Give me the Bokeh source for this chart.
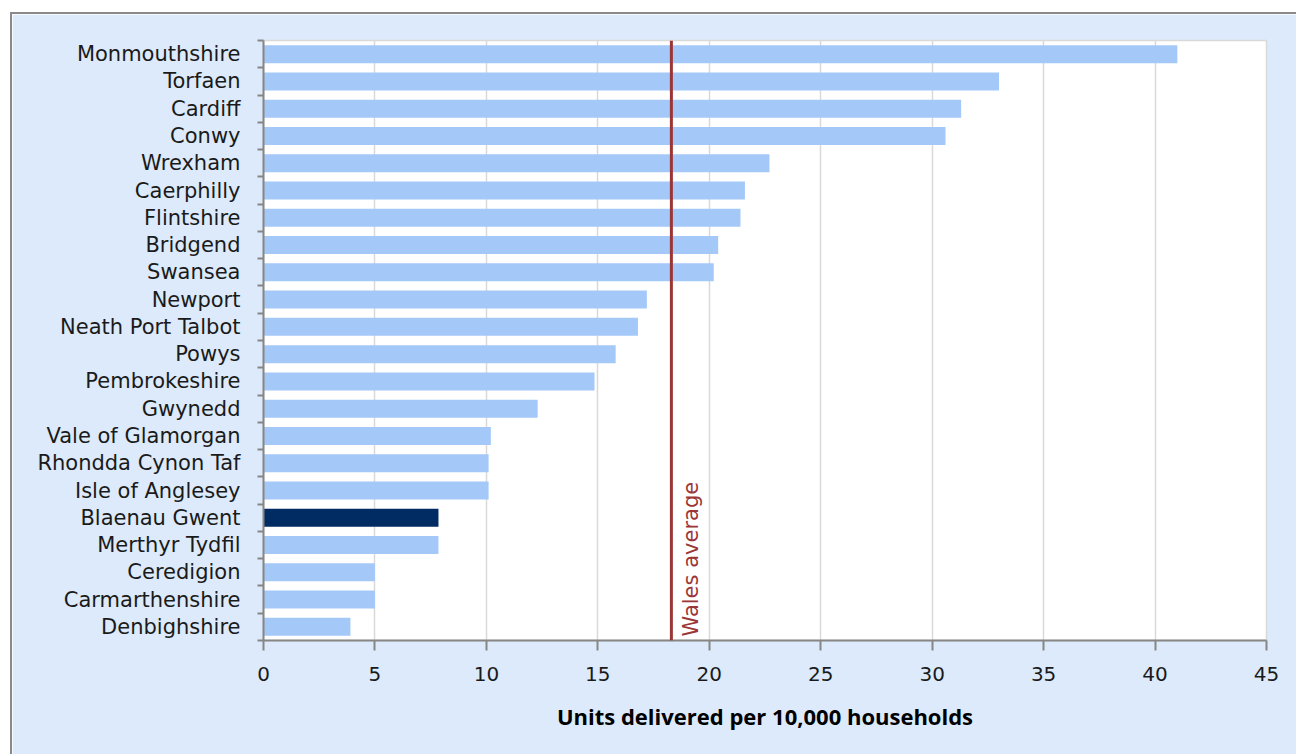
import numpy as np
from bokeh.plotting import figure
from bokeh.models import Range1d, FixedTicker, Span, Label
from bokeh.embed import file_html
from bokeh.resources import INLINE

areas = ["Monmouthshire", "Torfaen", "Cardiff", "Conwy", "Wrexham", "Caerphilly",
         "Flintshire", "Bridgend", "Swansea", "Newport", "Neath Port Talbot", "Powys",
         "Pembrokeshire", "Gwynedd", "Vale of Glamorgan", "Rhondda Cynon Taf",
         "Isle of Anglesey", "Blaenau Gwent", "Merthyr Tydfil", "Ceredigion",
         "Carmarthenshire", "Denbighshire"]
units = [41.0, 33.0, 31.3, 30.6, 22.7, 21.6, 21.4, 20.4, 20.2, 17.2, 16.8, 15.8,
         14.85, 12.3, 10.2, 10.1, 10.1, 7.85, 7.85, 5.0, 5.0, 3.9]
highlight = "Blaenau Gwent"
wales_average = 18.3
x_ticks = [0, 5, 10, 15, 20, 25, 30, 35, 40, 45]

n = len(areas)
ypos = list(np.arange(n)[::-1].astype(float))  # first area at top
colors = ["#012B63" if a == highlight else "#A4C9F8" for a in areas]

BG = "#DCEAFB"
FONT = "DejaVu Sans"
AVG_COLOR = "#9B3636"

p = figure(width=1286, height=742, output_backend="svg", toolbar_location=None,
           x_range=Range1d(0, 45), y_range=Range1d(-0.5, n - 0.5),
           min_border_left=251, min_border_right=32, min_border_top=26,
           min_border_bottom=116,
           styles={"border-left": "2px solid #8a8a8a", "border-top": "2px solid #8a8a8a",
                   "margin-left": "10px", "margin-top": "12px"})
p.background_fill_color = "white"
p.border_fill_color = BG
p.outline_line_color = "#d9d9d9"
p.outline_line_width = 1.5

p.hbar(y=ypos, right=units, left=0, height=0.66, fill_color=colors, line_color=None)

# grid
p.ygrid.grid_line_color = None
p.xgrid.grid_line_color = "#d9d9d9"
p.xgrid.grid_line_width = 1.5
p.xgrid.ticker = FixedTicker(ticks=x_ticks)

# x axis
xa = p.xaxis[0]
xa.ticker = FixedTicker(ticks=x_ticks)
xa.axis_line_color = "#868686"
xa.axis_line_width = 2
xa.major_tick_line_color = "#868686"
xa.major_tick_line_width = 2
xa.major_tick_out = 10
xa.major_tick_in = 0
xa.minor_tick_line_color = None
xa.major_label_standoff = 16
xa.major_label_text_font = FONT
xa.major_label_text_font_size = "20px"
xa.major_label_text_color = "#1a1a1a"
xa.axis_label = "Units delivered per 10,000 households"
xa.axis_label_text_font = "Open Sans"
xa.axis_label_text_font_style = "bold"
xa.axis_label_text_font_size = "22px"
xa.axis_label_text_color = "#000000"
xa.axis_label_standoff = 17

# y axis: labels at centers (major), ticks at boundaries (minor)
ya = p.yaxis[0]
bounds = [i - 0.5 for i in range(n + 1)]
ya.ticker = FixedTicker(ticks=ypos, minor_ticks=bounds)
ya.major_label_overrides = {float(y): a for y, a in zip(ypos, areas)}
ya.axis_line_color = "#868686"
ya.axis_line_width = 2
ya.major_tick_line_color = None
ya.major_tick_out = 0
ya.major_tick_in = 0
ya.minor_tick_line_color = "#868686"
ya.minor_tick_line_width = 2
ya.minor_tick_out = 6
ya.minor_tick_in = 0
ya.major_label_standoff = 17
ya.major_label_text_font = FONT
ya.major_label_text_font_size = "21px"
ya.major_label_text_color = "#1a1a1a"

# Wales average
p.add_layout(Span(location=wales_average, dimension="height", line_color=AVG_COLOR,
                  line_width=3))
p.add_layout(Label(x=wales_average, y=-0.5, x_offset=32, y_offset=4,
                   text="Wales average", angle=np.pi / 2, text_color=AVG_COLOR,
                   text_font=FONT, text_font_size="21px", text_align="left",
                   text_baseline="bottom"))

open("out.html", "w").write(file_html(p, INLINE))
